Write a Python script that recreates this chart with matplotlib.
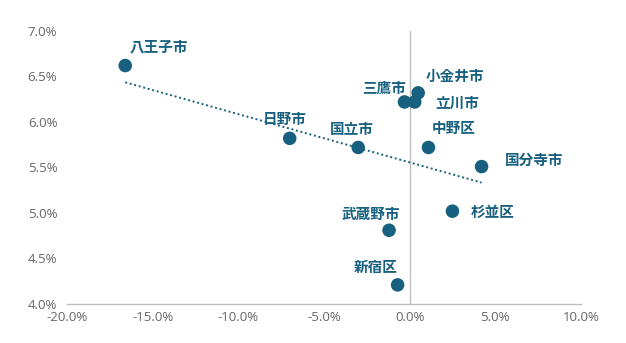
import matplotlib
matplotlib.use('Agg')

import numpy as np
import matplotlib.pyplot as plt
from matplotlib.ticker import FuncFormatter

# 各市区の値 (x: 変化率, y: 利回り)
names = ['八王子市', '日野市', '国立市', '三鷹市', '小金井市', '立川市',
         '中野区', '国分寺市', '杉並区', '武蔵野市', '新宿区']
x_vals = [-16.6, -7.0, -3.0, -0.3, 0.5, 0.3, 1.1, 4.2, 2.5, -1.2, -0.7]
y_vals = [6.62, 5.82, 5.72, 6.22, 6.32, 6.22, 5.72, 5.51, 5.02, 4.81, 4.21]

# ラベル位置 (点からのずれ, ピクセル)
label_offsets = [(34, 19), (-5, 19), (-6, 18), (-20, 14), (37, 17), (42, -1),
                 (25, 19), (53, 7), (40, -1), (-18, 16), (-22, 18)]

x_ticks = [-20, -15, -10, -5, 0, 5, 10]
y_ticks = [4.0, 4.5, 5.0, 5.5, 6.0, 6.5, 7.0]

blue = '#17607f'
gray = '#bdbdbd'
tick_color = '#666666'

plt.rcParams['font.family'] = ['Open Sans', 'Noto Sans CJK JP', 'DejaVu Sans']

fig = plt.figure(figsize=(6.26, 3.43), dpi=100)
ax = fig.add_axes([0.107, 0.1137, 0.821, 0.796])

ax.axvline(0, color=gray, linewidth=1, zorder=1)

# 近似直線
coef = np.polyfit(x_vals, y_vals, 1)
fx = np.array([min(x_vals), max(x_vals)])
ax.plot(fx, np.polyval(coef, fx), color=blue, linewidth=1.4,
        linestyle=(0, (1, 1.4)), zorder=2)

ax.scatter(x_vals, y_vals, s=95, color=blue, edgecolors='none', zorder=3)

for name, x, y, off in zip(names, x_vals, y_vals, label_offsets):
    ax.annotate(name, (x, y), xytext=off, textcoords='offset pixels',
                ha='center', va='center', fontsize=10.5, fontweight='bold',
                color=blue, family=['Noto Sans CJK JP', 'DejaVu Sans'])

ax.set_xlim(-20, 10)
ax.set_ylim(4.0, 7.0)
ax.set_xticks(x_ticks)
ax.set_yticks(y_ticks)
ax.xaxis.set_major_formatter(FuncFormatter(lambda v, p: f'{v:.1f}%'))
ax.yaxis.set_major_formatter(FuncFormatter(lambda v, p: f'{v:.1f}%'))
ax.tick_params(length=0, labelsize=9.5, colors=tick_color)
ax.tick_params(axis='x', pad=5)
ax.tick_params(axis='y', pad=7)

for side in ['top', 'right', 'left']:
    ax.spines[side].set_visible(False)
ax.spines['bottom'].set_color(gray)
ax.spines['bottom'].set_linewidth(1)

fig.savefig('out.png', dpi=100)
